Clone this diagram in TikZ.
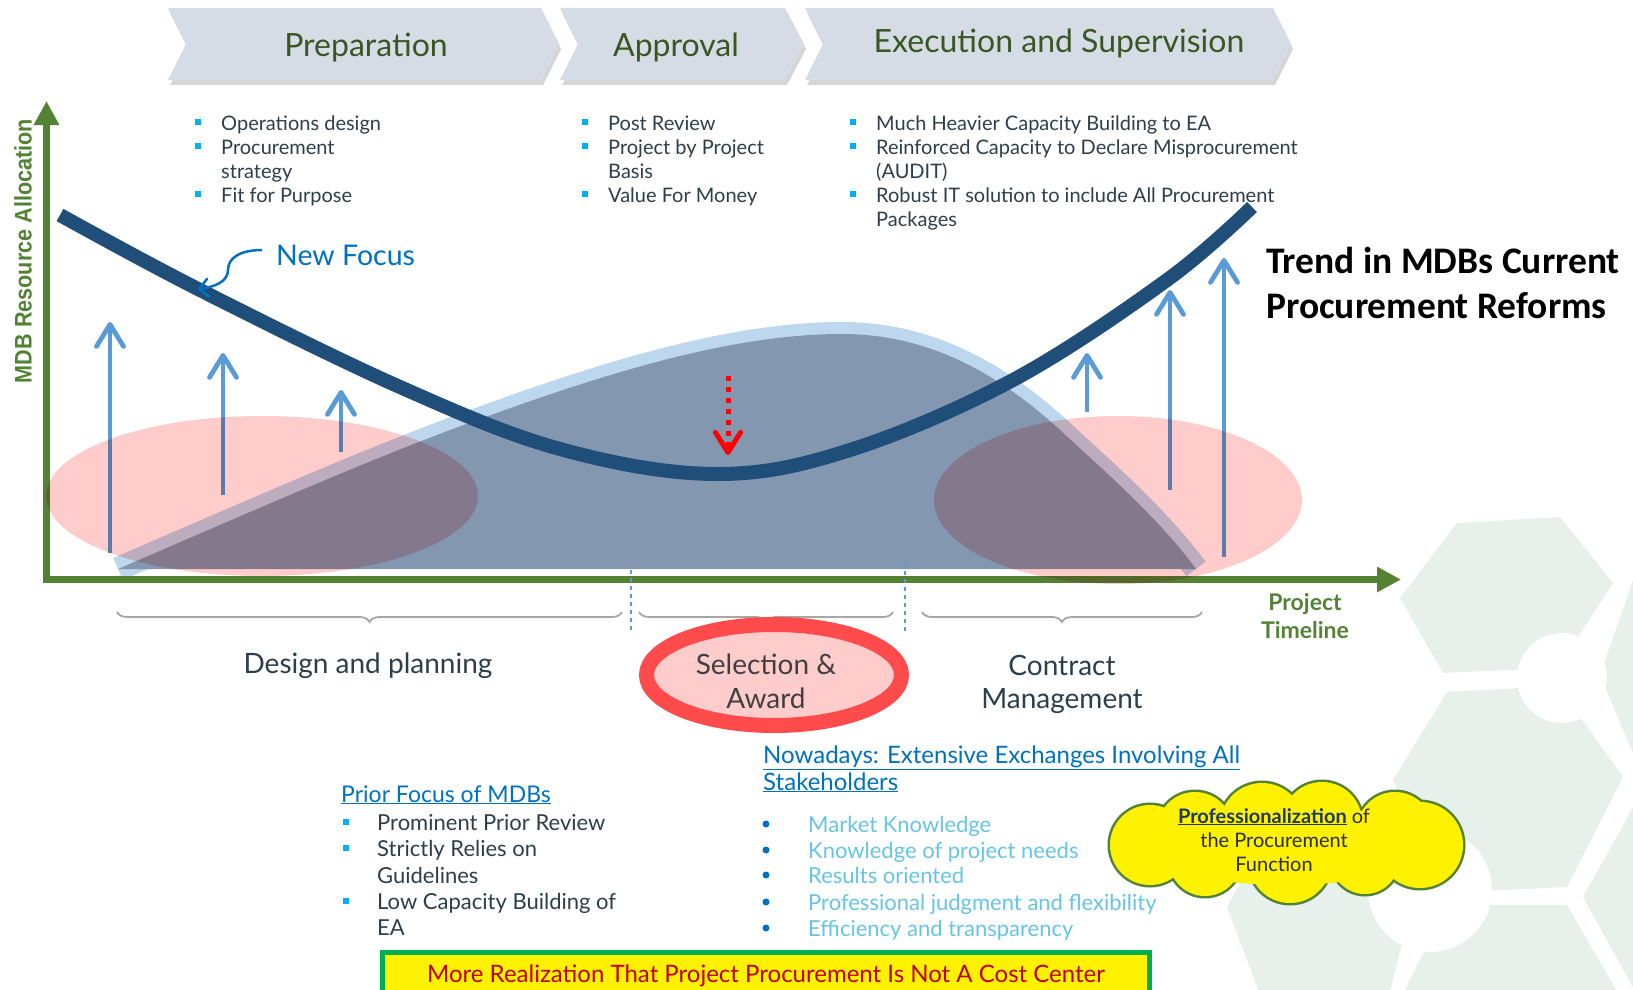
\documentclass[tikz,border=0pt]{standalone}
\usepackage{fontspec}
\setmainfont{Lato}
\newfontfamily\carlito{Carlito}
\newfontfamily\arialf{Liberation Sans}
\usetikzlibrary{arrows.meta,decorations.pathreplacing}
\definecolor{axisgreen}{RGB}{84,130,53}
\definecolor{chevfill}{RGB}{214,220,229}
\definecolor{chevtext}{RGB}{56,87,35}
\definecolor{bulcyan}{RGB}{0,176,240}
\definecolor{slate}{RGB}{45,62,75}
\definecolor{focusblue}{RGB}{0,112,192}
\definecolor{curveblue}{RGB}{31,78,121}
\definecolor{humpfill}{RGB}{132,151,176}
\definecolor{humpband}{RGB}{189,215,238}
\definecolor{arrowblue}{RGB}{91,155,213}
\definecolor{pinkell}{RGB}{255,204,204}
\definecolor{ringred}{RGB}{255,75,75}
\definecolor{bracegray}{RGB}{166,166,166}
\definecolor{itemblue}{RGB}{102,196,232}
\definecolor{hexgreen}{RGB}{231,240,235}
\definecolor{bannergreen}{RGB}{0,176,80}
\definecolor{bannerred}{RGB}{192,0,0}
\definecolor{textgray}{RGB}{64,64,64}
\definecolor{cloudtext}{RGB}{45,45,45}
\definecolor{navytext}{RGB}{31,56,100}
\begin{document}
\begin{tikzpicture}[x=1pt,y=-1pt,
  chev/.style={fill=chevfill},
  chevshadow/.style={fill=black, opacity=0.16},
  chevtitle/.style={font=\fontsize{32}{38}\selectfont, text=chevtext, inner sep=0, anchor=base},
  litem/.style={font=\fontsize{20}{24}\selectfont, text=slate, inner sep=0, anchor=base west},
  sqbullet/.style={fill=bulcyan, minimum size=6pt, inner sep=0},
  dotbullet/.style={circle, fill=focusblue, minimum size=7pt, inner sep=0},
  uparrow/.style={arrowblue, line width=4.8, -{Straight Barb[length=22pt,width=27pt,round]}},
  reddot/.style={red, line width=5, dash pattern=on 5pt off 6pt, -{Straight Barb[length=20pt,width=25pt,round]}},
  axisline/.style={axisgreen, line width=6.5, line join=miter, {Triangle[length=24pt,width=24pt]}-{Triangle[length=24pt,width=24pt]}},
  pinkfill/.style={fill=pinkell, blend mode=multiply},
  bracestyle/.style={decorate, decoration={brace, amplitude=10pt, mirror}, bracegray, line width=1.8},
  dashblue/.style={arrowblue, line width=1.2, dash pattern=on 4pt off 4pt},
  lbl/.style={font=\fontsize{28}{32}\selectfont, text=slate, inner sep=0, anchor=base},
  hd/.style={font=\fontsize{24}{28}\selectfont, text=focusblue, inner sep=0, anchor=base west},
  bitem/.style={font=\fontsize{22}{26}\selectfont, text=slate, inner sep=0, anchor=base west},
  litem2/.style={font=\fontsize{22}{26}\selectfont, text=itemblue, inner sep=0, anchor=base west},
  puffline/.style={axisgreen, line width=5},
  pufffill/.style={fill=yellow},
  cloudtxt/.style={font=\fontsize{20}{24}\selectfont, text=cloudtext, inner sep=0, anchor=base},
  ptl/.style={font=\bfseries\fontsize{23}{28}\selectfont, text=axisgreen, inner sep=0, anchor=base},
  trendtxt/.style={font=\carlito\bfseries\fontsize{37.5}{44}\selectfont, text=black, inner sep=0, anchor=base west}
]
\useasboundingbox (0,0) rectangle (1633,990);
\clip (0,0) rectangle (1633,990);

% background hexagons
\fill[hexgreen] (1457,523) -- (1560,517) -- (1613,583) -- (1558,668) -- (1443,673) -- (1400,598) -- cycle;
\fill[hexgreen] (1447,692) -- (1558,686) -- (1623,777) -- (1567,887) -- (1440,893) -- (1393,780) -- cycle;
\fill[hexgreen] (1600,675) -- (1640,560) -- (1700,560) -- (1700,770) -- (1640,770) -- cycle;
\fill[hexgreen] (1583,897) -- (1640,795) -- (1700,795) -- (1700,1000) -- (1640,1000) -- cycle;
\fill[hexgreen] (1455,905) -- (1567,905) -- (1622,1000) -- (1400,1000) -- (1425,950) -- cycle;
\fill[hexgreen] (1227,907) -- (1280,810) -- (1380,805) -- (1415,890) -- (1388,1000) -- (1262,1000) -- cycle;
\fill[white] (1562,678) circle (45);
\fill[white] (1430,890) circle (62);

% chevrons
\begin{scope}[shift={(2,5)}]
\fill[chevshadow] (168,8) -- (541,8) -- (559,44) -- (541,80) -- (168,80) -- (186,44) -- cycle;
\fill[chevshadow] (560,8) -- (785,8) -- (804,44) -- (785,80) -- (560,80) -- (578,44) -- cycle;
\fill[chevshadow] (805,8) -- (1273,8) -- (1291,44) -- (1273,80) -- (805,80) -- (823,44) -- cycle;
\end{scope}
\fill[chev] (168,8) -- (541,8) -- (559,44) -- (541,80) -- (168,80) -- (186,44) -- cycle;
\fill[chev] (560,8) -- (785,8) -- (804,44) -- (785,80) -- (560,80) -- (578,44) -- cycle;
\fill[chev] (805,8) -- (1273,8) -- (1291,44) -- (1273,80) -- (805,80) -- (823,44) -- cycle;
\node[chevtitle] (tprep) at (366,57) {Preparation};
\node[chevtitle] (tappr) at (676,57) {Approval};
\node[chevtitle] (texec) at (1059,53) {Execution and Supervision};

% list 1
\node[sqbullet] (b11) at (198,122) {};
\node[sqbullet] (b12) at (198,146) {};
\node[sqbullet] (b13) at (198,194) {};
\node[litem] (l11) at (221,130) {Operations design};
\node[litem] (l12) at (221,154) {Procurement};
\node[litem] (l12b) at (221,178) {strategy};
\node[litem] (l13) at (221,202) {Fit for Purpose};
% list 2
\node[sqbullet] (b21) at (585,122) {};
\node[sqbullet] (b22) at (585,146) {};
\node[sqbullet] (b23) at (585,194) {};
\node[litem] (l21) at (608,130) {Post Review};
\node[litem] (l22) at (608,154) {Project by Project};
\node[litem] (l22b) at (608,178) {Basis};
\node[litem] (l23) at (608,202) {Value For Money};
% list 3
\node[sqbullet] (b31) at (853,122) {};
\node[sqbullet] (b32) at (853,146) {};
\node[sqbullet] (b33) at (853,194) {};
\node[litem] (l31) at (876,130) {Much Heavier Capacity Building to EA};
\node[litem] (l32) at (876,154) {Reinforced Capacity to Declare Misprocurement};
\node[litem] (l32b) at (876,178) {(AUDIT)};
\node[litem] (l33) at (876,202) {Robust IT solution to include All Procurement};
\node[litem] (l33b) at (876,226) {Packages};

% hump
\draw[humpband, line width=24] (118,569) .. controls (250,512) and (350,468) .. (450,430) .. controls (580,382) and (720,334) .. (842,334) .. controls (930,334) and (1000,375) .. (1060,430) .. controls (1110,476) and (1160,520) .. (1196,569);
\fill[humpfill] (118,569) .. controls (250,512) and (350,468) .. (450,430) .. controls (580,382) and (720,334) .. (842,334) .. controls (930,334) and (1000,375) .. (1060,430) .. controls (1110,476) and (1160,520) .. (1196,569) -- cycle;

% new focus curve
\draw[curveblue, line width=14] plot[smooth, tension=0.6] coordinates {(60,215) (200,290) (400,387) (560,449) (716,474) (850,450) (1013,380) (1167,280) (1252,207)};

% blue arrows
\coordinate (a1b) at (110,553); \coordinate (a1t) at (110,322);
\coordinate (a2b) at (223,495); \coordinate (a2t) at (223,353);
\coordinate (a3b) at (341,452); \coordinate (a3t) at (341,390);
\coordinate (a4b) at (1087,412); \coordinate (a4t) at (1087,353);
\coordinate (a5b) at (1170,490); \coordinate (a5t) at (1170,290);
\coordinate (a6b) at (1224,557); \coordinate (a6t) at (1224,258);
\draw[uparrow] (a1b) -- (a1t);
\draw[uparrow] (a2b) -- (a2t);
\draw[uparrow] (a3b) -- (a3t);
\draw[uparrow] (a4b) -- (a4t);
\draw[uparrow] (a5b) -- (a5t);
\draw[uparrow] (a6b) -- (a6t);

% red dotted arrow
\coordinate (r1) at (728,376); \coordinate (r2) at (728,455);
\draw[reddot] (r1) -- (r2);

% new focus label
\node[font=\fontsize{28.5}{32}\selectfont, text=focusblue, inner sep=0, anchor=base west] (nf) at (276,265) {New Focus};
\coordinate (nfs) at (262,250); \coordinate (nft) at (198,289);
\draw[focusblue, line width=2.5, -{Straight Barb[length=9pt,width=18pt,round]}] (nfs) .. controls (240,250) and (228,258) .. (228,270) .. controls (228,282) and (214,287) .. (nft);

% axes
\coordinate (ytip) at (46.5,101); \coordinate (orig) at (46.5,579.5); \coordinate (xtip) at (1401,579.5);
\draw[axisline] (ytip) -- (orig) -- (xtip);
\node[rotate=90, font=\arialf\bfseries\fontsize{24}{28}\selectfont, text=axisgreen, inner sep=0] (ylab) at (23,251) {\scalebox{0.9}[1]{MDB Resource Allocation}};

% pink ellipses
\fill[pinkfill] (262,496) ellipse (216 and 80);
\fill[pinkfill] (1118,500) ellipse (184 and 84);

% braces and dashed separators
\draw[bracestyle] (117,612) -- (622,612);
\draw[bracestyle] (639,612) -- (893,612);
\draw[bracestyle] (922,612) -- (1202,612);
\draw[dashblue] (631,570) -- (631,633);
\draw[dashblue] (905,563) -- (905,632);

% phase labels
\node[lbl] (dp) at (368,673) {Design and planning};
\node[lbl] (cm1) at (1062,675) {Contract};
\node[lbl] (cm2) at (1062,708) {Management};
\draw[ringred, line width=15, fill=pinkell] (774,675) ellipse (127.5 and 50.5);
\node[lbl, text=textgray] (sa1) at (766,674) {Selection \&};
\node[lbl, text=textgray] (sa2) at (766,708) {Award};
\node[ptl] (pt1) at (1305,610) {Project};
\node[ptl] (pt2) at (1305,638) {Timeline};

% trend title
\node[trendtxt] (tr1) at (1266,273) {Trend in MDBs Current};
\node[trendtxt] (tr2) at (1266,318) {Procurement Reforms};

% prior focus
\node[hd, font=\fontsize{23}{28}\selectfont] (pf) at (341,802) {\underline{Prior Focus of MDBs}};
\node[sqbullet] (pb1) at (346,822) {};
\node[sqbullet] (pb2) at (346,848) {};
\node[sqbullet] (pb3) at (346,901) {};
\node[bitem] (pi1) at (377,830) {Prominent Prior Review};
\node[bitem] (pi2) at (377,856) {Strictly Relies on};
\node[bitem] (pi2b) at (377,883) {Guidelines};
\node[bitem] (pi3) at (377,909) {Low Capacity Building of};
\node[bitem] (pi3b) at (377,935) {EA};

% nowadays
\node[hd] (nw1) at (763,763) {\underline{Nowadays: Extensive Exchanges Involving All}};
\node[hd] (nw2) at (763,790) {\underline{Stakeholders}};
\node[dotbullet] (nb1) at (766,824) {};
\node[dotbullet] (nb2) at (766,850) {};
\node[dotbullet] (nb3) at (766,875) {};
\node[dotbullet] (nb4) at (766,902) {};
\node[dotbullet] (nb5) at (766,928) {};
\node[litem2] (ni1) at (808,832) {Market Knowledge};
\node[litem2] (ni2) at (808,858) {Knowledge of project needs};
\node[litem2] (ni3) at (808,883) {Results oriented};
\node[litem2] (ni4) at (808,910) {Professional judgment and flexibility};
\node[litem2] (ni5) at (808,936) {Efficiency and transparency};

% cloud: outlined puffs, then filled puffs on top
\foreach \cx/\cy/\r in {1150/845/40, 1195/830/38, 1262/825/42, 1322/822/40, 1395/830/38, 1420/845/43, 1365/860/34, 1290/862/41, 1205/860/36}
  \draw[puffline] (\cx,\cy) circle (\r);
\fill[pufffill] (1286,845) ellipse (145 and 40);
\foreach \cx/\cy/\r in {1150/845/40, 1195/830/38, 1262/825/42, 1322/822/40, 1395/830/38, 1420/845/43, 1365/860/34, 1290/862/41, 1205/860/36}
  \fill[pufffill] (\cx,\cy) circle (\r);
\node[cloudtxt] (ct1) at (1274,823) {{\color{navytext}\underline{\textbf{Professionalization}}} of};
\node[cloudtxt] (ct2) at (1274,847) {the Procurement};
\node[cloudtxt] (ct3) at (1274,871) {Function};

% banner
\draw[bannergreen, line width=5, fill=yellow] (382.5,952.5) rectangle (1149.5,1010);
\node[font=\fontsize{24}{28}\selectfont, text=bannerred, inner sep=0, anchor=base] (ban) at (766,982) {More Realization That Project Procurement Is Not A Cost Center};
\end{tikzpicture}
\end{document}
